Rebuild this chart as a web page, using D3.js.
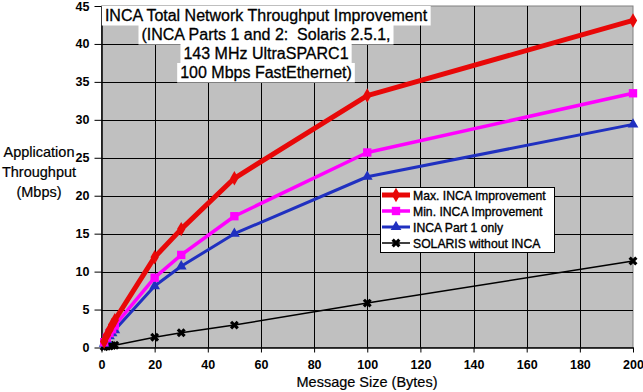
<!DOCTYPE html>
<html>
<head>
<meta charset="utf-8">
<script src="https://cdn.jsdelivr.net/npm/d3@7"></script>
<style>
  body { margin: 0; background: #fff; }
  text { font-family: "Liberation Sans", Arial, sans-serif; white-space: pre; }
</style>
</head>
<body>
<div id="viz"></div>
<script>
"use strict";
(function(){
    // message sizes (bytes)
    const sizes = [1, 2, 3, 4, 5, 20, 30, 50, 100, 200]
    const maxInca = [0.8, 1.6, 2.3, 3.0, 3.6, 11.9, 15.6, 22.3, 33.2, 43.1]
    const minInca = [0.7, 1.3, 1.9, 2.4, 2.9, 9.2, 12.2, 17.3, 25.7, 33.5]
    const part1Only = [0.5, 1.0, 1.5, 1.9, 2.3, 8.1, 10.7, 15.0, 22.5, 29.4]
    const solaris = [0.1, 0.15, 0.2, 0.25, 0.3, 1.35, 1.95, 2.95, 5.85, 11.4]

    const seriesNames = ["Max. INCA Improvement", "Min. INCA Improvement", "INCA Part 1 only", "SOLARIS without INCA"]
    const xTicks = [0, 20, 40, 60, 80, 100, 120, 140, 160, 180, 200]
    const yTicks = [0, 5, 10, 15, 20, 25, 30, 35, 40, 45]
    const titleLines = ["INCA Total Network Throughput Improvement", "(INCA Parts 1 and 2:  Solaris 2.5.1,", "143 MHz UltraSPARC1", "100 Mbps FastEthernet)"]
    const yTitle = ["Application", "Throughput", "(Mbps)"]

    const measurements = { width: 643, height: 392, left: 101.5, right: 633, top: 6, bottom: 347.5 }

    const series = [
        { name: seriesNames[0], values: maxInca, color: "#e80808", width: 5, marker: "diamond", size: 60 },
        { name: seriesNames[1], values: minInca, color: "#ff00ff", width: 3.5, marker: "square", size: 70 },
        { name: seriesNames[2], values: part1Only, color: "#2030c0", width: 3, marker: "triangle", size: 50 },
        { name: seriesNames[3], values: solaris, color: "#000000", width: 1.5, marker: "cross", size: 50 }
    ]

    const svg = d3.select('#viz').append("svg")
        .attr('width', measurements.width)
        .attr('height', measurements.height)

    let scaleX = d3.scaleLinear().domain([0, 200]).range([measurements.left, measurements.right])
    let scaleY = d3.scaleLinear().domain([0, 45]).range([measurements.bottom, measurements.top])

    // plot background
    svg.append('rect')
        .attr('x', measurements.left).attr('y', measurements.top)
        .attr('width', measurements.right - measurements.left)
        .attr('height', measurements.bottom - measurements.top)
        .attr('fill', '#c0c0c0')
        .attr('stroke', '#808080')

    // grid lines
    svg.append('g').selectAll('line').data(yTicks.slice(1, -1)).enter().append('line')
        .attr('x1', measurements.left).attr('x2', measurements.right)
        .attr('y1', d => Math.round(scaleY(d)) + 0.5).attr('y2', d => Math.round(scaleY(d)) + 0.5)
        .attr('stroke', 'black')
    svg.append('g').selectAll('line').data(xTicks.slice(1, -1)).enter().append('line')
        .attr('y1', measurements.top).attr('y2', measurements.bottom)
        .attr('x1', d => Math.round(scaleX(d)) + 0.5).attr('x2', d => Math.round(scaleX(d)) + 0.5)
        .attr('stroke', 'black')

    // axes
    svg.append('g')
        .attr('transform', 'translate(0,' + measurements.bottom + ')')
        .call(d3.axisBottom(scaleX).tickValues(xTicks).tickSize(5).tickPadding(8).tickSizeOuter(0))
    svg.append('g')
        .attr('transform', 'translate(' + measurements.left + ',0)')
        .call(d3.axisLeft(scaleY).tickValues(yTicks).tickSize(7).tickPadding(5).tickSizeOuter(0))
    svg.selectAll('.domain').attr('stroke', 'black').attr('stroke-width', 1.5)
    svg.selectAll('.tick text')
        .attr('font-family', '"Liberation Sans", Arial, sans-serif')
        .attr('font-size', 12.5).attr('font-weight', 'bold').attr('fill', 'black')

    // lines + markers
    const line = d3.line()
        .x((d, i) => scaleX(sizes[i]))
        .y(d => scaleY(d))

    const symbolFor = {
        diamond: d3.symbolDiamond,
        square: d3.symbolSquare,
        triangle: d3.symbolTriangle,
        cross: d3.symbolCross
    }

    function drawMarker(g, s, x, y) {
        g.append('path')
            .attr('d', d3.symbol().type(symbolFor[s.marker]).size(s.size)())
            .attr('transform', 'translate(' + x + ',' + y + ')' + (s.marker === "cross" ? ' rotate(45)' : ''))
            .attr('fill', s.color)
    }

    series.slice().reverse().forEach(function(s) {
        const g = svg.append('g')
        g.append('path')
            .datum(s.values)
            .attr('d', line)
            .attr('fill', 'none')
            .attr('stroke', s.color)
            .attr('stroke-width', s.width)
            .attr('stroke-linejoin', 'round')
        s.values.forEach(function(v, i) {
            drawMarker(g, s, scaleX(sizes[i]), scaleY(v))
        })
    })

    // title with white boxes per line
    const title = svg.append('g')
    titleLines.forEach(function(t, i) {
        const y = 21 + i * 19
        const txt = title.append('text')
            .attr('x', 266).attr('y', y)
            .attr('text-anchor', 'middle')
            .attr('font-size', 16)
            .attr('fill', 'black')
            .attr('stroke', 'black').attr('stroke-width', 0.3)
            .text(t)
        const bb = txt.node().getBBox()
        title.insert('rect', 'text')
            .attr('x', bb.x - 3).attr('y', y - 15)
            .attr('width', bb.width + 6).attr('height', 19.5)
            .attr('fill', 'white')
    })

    // legend
    const legend = svg.append('g').attr('transform', 'translate(380,187)')
    legend.append('rect')
        .attr('x', 0.5).attr('y', 0.5).attr('width', 174).attr('height', 65)
        .attr('fill', 'white').attr('stroke', 'black')
    series.forEach(function(s, i) {
        const y = 8 + i * 16
        legend.append('line')
            .attr('x1', 2).attr('x2', 30).attr('y1', y).attr('y2', y)
            .attr('stroke', s.color).attr('stroke-width', s.width)
        drawMarker(legend, s, 16, y)
        legend.append('text')
            .attr('x', 33).attr('y', y + 4.5)
            .attr('font-size', 12.2)
            .attr('stroke', 'black').attr('stroke-width', 0.35)
            .text(s.name)
    })

    // axis titles
    svg.append('text')
        .attr('x', 367).attr('y', 387)
        .attr('text-anchor', 'middle')
        .attr('font-size', 14.5)
        .attr('stroke', 'black').attr('stroke-width', 0.2)
        .text('Message Size (Bytes)')

    yTitle.forEach(function(t, i) {
        svg.append('text')
            .attr('x', 39).attr('y', 157 + i * 20)
            .attr('text-anchor', 'middle')
            .attr('font-size', 14.5)
            .attr('stroke', 'black').attr('stroke-width', 0.2)
            .text(t)
    })
})()
</script>
</body>
</html>
